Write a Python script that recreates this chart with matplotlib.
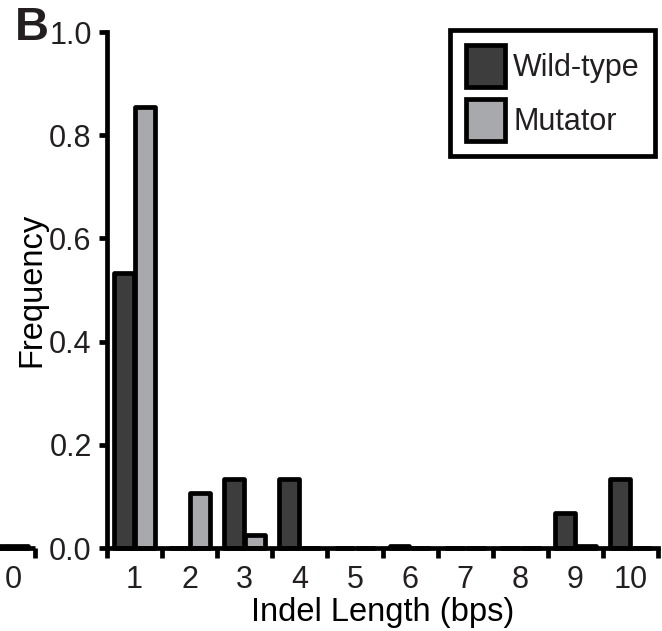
import matplotlib
matplotlib.use("Agg")
import matplotlib.pyplot as plt
import numpy as np

plt.rcParams['font.family'] = ['Liberation Sans', 'DejaVu Sans']
TXT = "#231f20"
plt.rcParams['text.color'] = TXT
plt.rcParams['xtick.labelcolor'] = TXT
plt.rcParams['ytick.labelcolor'] = TXT

categories = [0, 1, 2, 3, 4, 5, 6, 7, 8, 9, 10]
wild_type = [0.004, 0.533, 0.0, 0.133, 0.133, 0.0, 0.004, 0.0, 0.0, 0.067, 0.133]
mutator = [0.004, 0.854, 0.107, 0.025, 0.0, 0.0, 0.0, 0.0, 0.0, 0.004, 0.0]
series_names = ["Wild-type", "Mutator"]
y_ticks = [0.0, 0.2, 0.4, 0.6, 0.8, 1.0]

WT_COLOR = "#3d3d3d"
MUT_COLOR = "#a8a9ac"
LW = 3.4
FS = 22
LFS = 23.5

fig = plt.figure(figsize=(6.62, 6.31), dpi=100)
ax = fig.add_axes([107/662, 1 - 548/631, (658 - 107)/662, (548 - 32)/631])

# category 0 is drawn to the left of the y axis, as in the reference
pos = np.array(categories, dtype=float)
pos[0] = -1.3

w = 0.36
off = 0.19
ax.bar(pos - off, wild_type, width=w, color=WT_COLOR, edgecolor="black",
       linewidth=LW, label=series_names[0], clip_on=False, joinstyle="round")
ax.bar(pos + off, mutator, width=w, color=MUT_COLOR, edgecolor="black",
       linewidth=LW, label=series_names[1], clip_on=False, joinstyle="round")

ax.set_xlim(0.5, 10.5)
ax.set_ylim(0, 1.0)

for s in ["top", "right"]:
    ax.spines[s].set_visible(False)
for s in ["left", "bottom"]:
    ax.spines[s].set_linewidth(LW)

ax.set_yticks(y_ticks)
ax.set_yticklabels([f"{v:.1f}" for v in y_ticks])
ax.tick_params(axis="y", which="major", length=6, width=LW, labelsize=FS, pad=5)

# boundaries as ticks, labels at category centres
ax.set_xticks(np.arange(0.5, 11, 1.0))
ax.set_xticklabels([])
ax.set_xticks(categories[1:], minor=True)
ax.set_xticklabels([str(c) for c in categories[1:]], minor=True)
ax.tick_params(axis="x", which="major", length=7, width=LW)
ax.tick_params(axis="x", which="minor", length=0, labelsize=FS, pad=12)

# little baseline segment and tick for category 0
c0 = pos[0]
ax.plot([c0 - 0.6, c0 + 0.5], [0, 0], color="black", lw=LW, clip_on=False,
        solid_capstyle="butt")
ax.plot([c0 + 0.5, c0 + 0.5], [0, -7 / 72 * 100 / 516], color="black", lw=LW,
        clip_on=False, solid_capstyle="butt")
ax.annotate(str(categories[0]), xy=(c0 + 0.1, 0), xycoords="data",
            xytext=(0, -12), textcoords="offset points",
            ha="center", va="top", fontsize=FS, annotation_clip=False)

ax.set_xlabel("Indel Length (bps)", fontsize=LFS, labelpad=2)
ax.set_ylabel("Frequency", fontsize=LFS, labelpad=1)

leg = ax.legend(loc="upper right", bbox_to_anchor=(655/662, 1 - 30/631),
                bbox_transform=fig.transFigure, borderaxespad=0,
                fontsize=FS, fancybox=False, edgecolor="black",
                handlelength=1.3, handleheight=1.7, handletextpad=0.25,
                labelspacing=0.42, borderpad=0.5, framealpha=1)
leg.get_frame().set_linewidth(LW)

fig.text(15/662, 1 - 40/631, "B", fontsize=34, fontweight="bold", ha="left",
         va="baseline")

fig.savefig("out.png", dpi=100)
